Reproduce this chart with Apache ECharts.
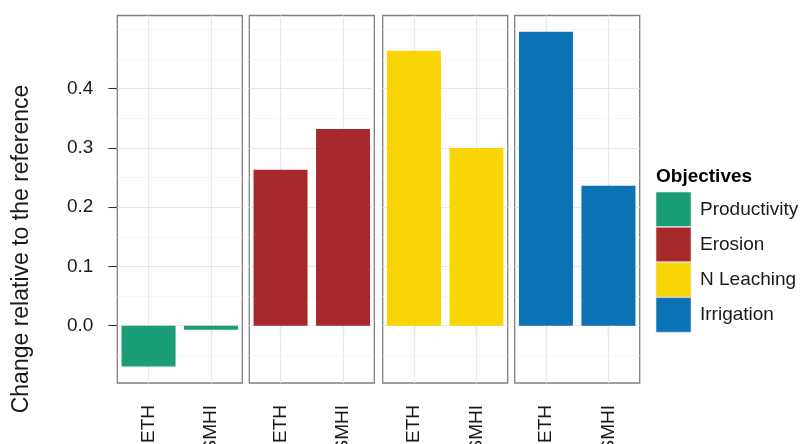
<!DOCTYPE html>
<html>
<head>
<meta charset="utf-8">
<script src="https://cdn.jsdelivr.net/npm/echarts@6/dist/echarts.min.js"></script>
<style>
  html, body { margin: 0; padding: 0; background: #fff; }
  #chart { width: 802px; height: 444px; }
</style>
</head>
<body>
<div id="chart"></div>
<script>
// Data: one facet per objective, two climate models each
const models = ['ETH', 'SMHI'];
const objectives = ['Productivity', 'Erosion', 'N Leaching', 'Irrigation'];
const productivity = [-0.069, -0.007];
const erosion = [0.263, 0.332];
const nLeaching = [0.464, 0.300];
const irrigation = [0.496, 0.236];
const yMajorBreaks = [0.0, 0.1, 0.2, 0.3, 0.4];
const yMinorBreaks = [-0.05, 0.05, 0.15, 0.25, 0.35, 0.45, 0.5];

const values = [productivity, erosion, nLeaching, irrigation];
const colors = ['#1b9e77', '#a6292b', '#fad505', '#0b72b5'];

const FONT = '"Liberation Sans", Arial, Helvetica, sans-serif';
const Y_MIN = -0.0967, Y_MAX = 0.5235;
const panelLefts = [117.3, 249.3, 382.7, 514.7];
const PANEL_W = 125, PANEL_TOP = 15.5, PANEL_H = 367.5;

const grids = panelLefts.map(l => ({
  left: l, top: PANEL_TOP, width: PANEL_W, height: PANEL_H,
  outerBoundsMode: 'none', containLabel: false,
  show: true, backgroundColor: '#fff', borderColor: '#7f7f7f', borderWidth: 1.3
}));

const xAxes = panelLefts.map((_, i) => ({
  type: 'category', gridIndex: i, data: models,
  axisLine: { show: false },
  axisTick: { show: true, alignWithLabel: true, length: 9, lineStyle: { color: '#333', width: 1.1 } },
  axisLabel: { rotate: 90, margin: 22, fontSize: 19, color: '#1a1a1a', fontFamily: FONT },
  splitLine: { show: false }
}));

const yAxes = panelLefts.map((_, i) => ({
  type: 'value', gridIndex: i, min: Y_MIN, max: Y_MAX,
  axisLine: { show: false },
  splitLine: { show: false },
  axisTick: i === 0
    ? { show: true, length: 9, customValues: yMajorBreaks, lineStyle: { color: '#333', width: 1.1 } }
    : { show: false },
  axisLabel: i === 0
    ? {
        show: true, margin: 24, fontSize: 19, color: '#1a1a1a', fontFamily: FONT,
        customValues: yMajorBreaks,
        formatter: v => (yMajorBreaks.some(b => Math.abs(b - v) < 1e-9) ? v.toFixed(1) : '')
      }
    : { show: false }
}));

// Panel grid lines drawn beneath the bars
function gridLines() {
  const data = [];
  yMinorBreaks.forEach(v => data.push({ yAxis: v, lineStyle: { color: '#f4f4f4', width: 0.8 } }));
  yMajorBreaks.forEach(v => data.push({ yAxis: v, lineStyle: { color: '#e8e8e8', width: 1.2 } }));
  models.forEach(m => data.push({ xAxis: m, lineStyle: { color: '#e8e8e8', width: 1.2 } }));
  return {
    silent: true, z: 1, symbol: ['none', 'none'], label: { show: false },
    lineStyle: { type: 'solid' }, emphasis: { disabled: true }, animation: false, data
  };
}

const series = objectives.map((name, i) => ({
  name, type: 'bar', xAxisIndex: i, yAxisIndex: i,
  data: values[i], barWidth: 54, z: 2,
  itemStyle: { color: colors[i] },
  markLine: gridLines()
}));

const chart = echarts.init(document.getElementById('chart'), null, { renderer: 'canvas' });
chart.setOption({
  animation: false,
  backgroundColor: '#fff',
  textStyle: { fontFamily: FONT },
  grid: grids,
  xAxis: xAxes,
  yAxis: yAxes,
  series,
  legend: {
    data: objectives, orient: 'vertical', left: 655.7, top: 191.7,
    itemWidth: 35, itemHeight: 34.6, itemGap: 0, icon: 'rect', padding: 0,
    selectedMode: false,
    itemStyle: { borderColor: '#e6e6e6', borderWidth: 0.6 },
    textStyle: { fontSize: 19, color: '#1a1a1a', fontFamily: FONT, padding: [0, 0, 0, 4] }
  },
  graphic: [
    {
      type: 'text', x: 22, y: 249, rotation: Math.PI / 2,
      style: {
        text: 'Change relative to the reference', fontSize: 23, fontFamily: FONT,
        fill: '#1a1a1a', align: 'center', verticalAlign: 'middle'
      }
    },
    {
      type: 'text', x: 656, y: 177,
      style: {
        text: 'Objectives', fontSize: 19, fontWeight: 'bold', fontFamily: FONT,
        fill: '#000', align: 'left', verticalAlign: 'middle'
      }
    }
  ]
});
</script>
</body>
</html>
